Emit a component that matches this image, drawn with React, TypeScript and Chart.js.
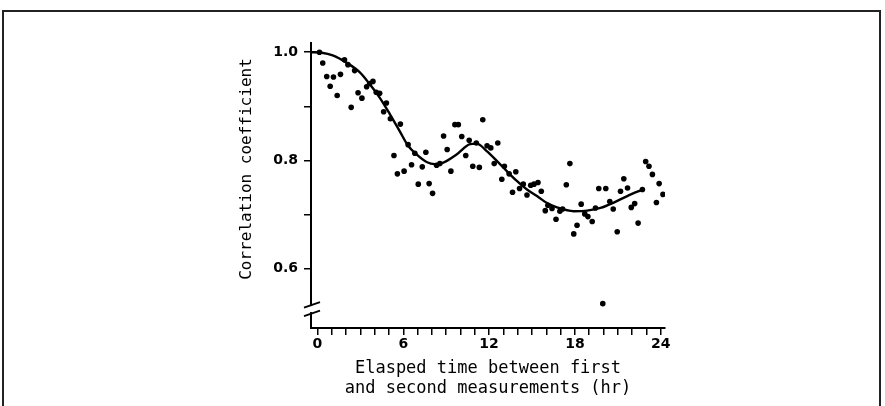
import React, { useEffect, useRef } from 'react';
import { Chart, registerables } from 'chart.js';

Chart.register(...registerables);

// Observed correlation coefficients (elapsed hours, coefficient)
const elapsedHr = [
  0.14, 0.37, 0.65, 0.89, 1.12, 1.38, 1.61, 1.89, 2.13, 2.36,
  2.6, 2.84, 3.11, 3.44, 3.65, 3.88, 4.11, 4.35, 4.63, 4.82,
  5.1, 5.35, 5.59, 5.8, 6.06, 6.34, 6.58, 6.81, 7.05, 7.33,
  7.58, 7.81, 8.05, 8.33, 8.56, 8.82, 9.07, 9.33, 9.61, 9.85,
  10.09, 10.37, 10.61, 10.86, 11.11, 11.32, 11.56, 11.86, 12.12, 12.36,
  12.61, 12.89, 13.07, 13.4, 13.64, 13.87, 14.13, 14.39, 14.65, 14.91,
  15.14, 15.42, 15.65, 15.93, 16.11, 16.4, 16.68, 16.95, 17.14, 17.4,
  17.65, 17.92, 18.15, 18.44, 18.69, 18.91, 19.21, 19.44, 19.67, 19.95,
  20.16, 20.44, 20.68, 20.96, 21.19, 21.42, 21.68, 21.94, 22.18, 22.42,
  22.72, 22.95, 23.18, 23.42, 23.7, 23.89, 24.16,
];
const correlation = [
  1.0, 0.98, 0.955, 0.937, 0.954, 0.92, 0.959, 0.986, 0.977, 0.898,
  0.966, 0.925, 0.915, 0.936, 0.942, 0.946, 0.926, 0.924, 0.89, 0.906,
  0.877, 0.809, 0.775, 0.867, 0.78, 0.829, 0.792, 0.813, 0.756, 0.788,
  0.815, 0.757, 0.739, 0.791, 0.794, 0.845, 0.82, 0.78, 0.866, 0.866,
  0.844, 0.809, 0.837, 0.789, 0.832, 0.787, 0.875, 0.827, 0.823, 0.794,
  0.832, 0.765, 0.789, 0.775, 0.741, 0.779, 0.748, 0.756, 0.736, 0.754,
  0.756, 0.759, 0.743, 0.707, 0.717, 0.711, 0.691, 0.706, 0.71, 0.755,
  0.794, 0.664, 0.68, 0.719, 0.701, 0.696, 0.687, 0.712, 0.748, 0.535,
  0.748, 0.724, 0.71, 0.668, 0.743, 0.766, 0.749, 0.713, 0.72, 0.684,
  0.746, 0.798, 0.789, 0.774, 0.722, 0.757, 0.737,
];

// Fitted smooth curve
const fitHr = [
  -0.45, 0.3, 1.07, 2.01, 2.95, 3.65, 4.35, 5.05, 5.75, 6.34,
  6.93, 7.63, 8.21, 8.8, 9.73, 10.67, 11.14, 11.84, 12.54, 13.24,
  13.94, 14.65, 15.35, 16.05, 16.75, 17.92, 18.86, 19.79, 20.72, 21.66, 22.72,
];
const fitCorr = [
  1.0, 0.999, 0.994, 0.981, 0.963, 0.941, 0.916, 0.886, 0.854, 0.827,
  0.811, 0.797, 0.793, 0.796, 0.811, 0.83, 0.831, 0.817, 0.799, 0.78,
  0.762, 0.746, 0.734, 0.721, 0.713, 0.706, 0.707, 0.712, 0.722, 0.734, 0.746,
];

const yTickValues = [0.6, 0.7, 0.8, 0.9, 1.0];
const yTickLabels = ['0.6', '', '0.8', '', '1.0'];
const xTickValues = [0, 1, 2, 3, 4, 5, 6, 7, 8, 9, 10, 11, 12, 13, 14, 15, 16, 17, 18, 19, 20, 21, 22, 23, 24];
const xTickLabels = ['0', '', '', '', '', '', '6', '', '', '', '', '', '12', '', '', '', '', '', '18', '', '', '', '', '', '24'];
const yTitle = 'Correlation coefficient';
const xTitle = ['Elasped time between first', 'and second measurements (hr)'];
const breakValue = 0.525;

const decorPlugin = {
  id: 'decor',
  afterDraw(chart: any) {
    const { ctx, chartArea } = chart;
    const ys = chart.scales.y;
    const ax = chartArea.left;
    const yb = ys.getPixelForValue(breakValue);
    ctx.save();
    // axis break
    ctx.fillStyle = '#fff';
    ctx.fillRect(ax - 3, yb - 3, 6, 6);
    ctx.strokeStyle = '#000';
    ctx.lineWidth = 2;
    ctx.beginPath();
    ctx.moveTo(ax - 7, yb - 1.5);
    ctx.lineTo(ax + 9, yb - 7);
    ctx.moveTo(ax - 7, yb + 7);
    ctx.lineTo(ax + 9, yb + 1.5);
    ctx.stroke();
    // y title
    ctx.fillStyle = '#000';
    ctx.font = '16px "DejaVu Sans Mono"';
    ctx.textAlign = 'center';
    ctx.textBaseline = 'middle';
    ctx.translate(chartArea.left - 64, chartArea.top + 126);
    ctx.rotate(-Math.PI / 2);
    ctx.fillText(yTitle, 0, 0);
    ctx.restore();
  },
};

export default function App() {
  const canvasRef = useRef<HTMLCanvasElement | null>(null);

  useEffect(() => {
    const canvas = canvasRef.current;
    if (!canvas) return;
    const points = elapsedHr.map((t, i) => ({ x: t, y: correlation[i] }));
    const fit = fitHr.map((t, i) => ({ x: t, y: fitCorr[i] }));
    const tickFont = { family: '"DejaVu Sans"', size: 14, weight: 'bold' as const };

    const chart = new Chart(canvas, {
      type: 'scatter',
      data: {
        datasets: [
          {
            label: 'fit',
            data: fit,
            showLine: true,
            borderColor: '#000',
            borderWidth: 2.4,
            pointRadius: 0,
            cubicInterpolationMode: 'monotone',
            fill: false,
          },
          {
            label: 'observed',
            data: points,
            backgroundColor: '#000',
            borderColor: '#000',
            borderWidth: 0,
            pointRadius: 2.8,
          },
        ],
      },
      options: {
        animation: false,
        responsive: false,
        devicePixelRatio: 1,
        layout: { padding: { left: 230, top: 43, right: 220, bottom: 0 } },
        plugins: { legend: { display: false }, tooltip: { enabled: false } },
        scales: {
          x: {
            type: 'linear',
            min: -0.45,
            max: 24.3,
            afterBuildTicks: (s: any) => {
              s.ticks = xTickValues.map((v) => ({ value: v }));
            },
            afterFit: (s: any) => {
              s.height = 78;
            },
            ticks: {
              autoSkip: false,
              maxRotation: 0,
              color: '#000',
              font: tickFont,
              padding: 1,
              callback: (_v: any, i: number) => xTickLabels[i],
            },
            grid: {
              display: true,
              drawOnChartArea: false,
              drawTicks: true,
              tickLength: 7,
              color: '#000',
              lineWidth: 1.5,
            },
            border: { display: true, color: '#000', width: 2 },
            title: {
              display: true,
              text: xTitle,
              color: '#000',
              font: { family: '"DejaVu Sans Mono"', size: 17, lineHeight: 1.15 },
              padding: { top: 0, bottom: 8 },
            },
          },
          y: {
            type: 'linear',
            min: 0.49,
            max: 1.017,
            afterBuildTicks: (s: any) => {
              s.ticks = yTickValues.map((v) => ({ value: v }));
            },
            afterFit: (s: any) => {
              s.width = 81;
            },
            ticks: {
              autoSkip: false,
              color: '#000',
              font: tickFont,
              padding: 6,
              callback: (_v: any, i: number) => yTickLabels[i],
            },
            grid: {
              display: true,
              drawOnChartArea: false,
              drawTicks: true,
              tickLength: 7,
              color: '#000',
              lineWidth: 1.5,
            },
            border: { display: true, color: '#000', width: 2 },
            title: { display: false },
          },
        },
      },
      plugins: [decorPlugin],
    });
    return () => chart.destroy();
  }, []);

  return (
    <div
      style={{
        position: 'fixed',
        left: 0,
        top: 0,
        width: 885,
        height: 406,
        overflow: 'hidden',
        background: '#fff',
      }}
    >
      <div
        style={{
          position: 'absolute',
          left: 2,
          top: 10,
          width: 879,
          height: 440,
          border: '2px solid #222',
          boxSizing: 'border-box',
        }}
      />
      <canvas
        ref={canvasRef}
        width={885}
        height={406}
        style={{ position: 'absolute', left: 0, top: 0, width: 885, height: 406 }}
      />
    </div>
  );
}
